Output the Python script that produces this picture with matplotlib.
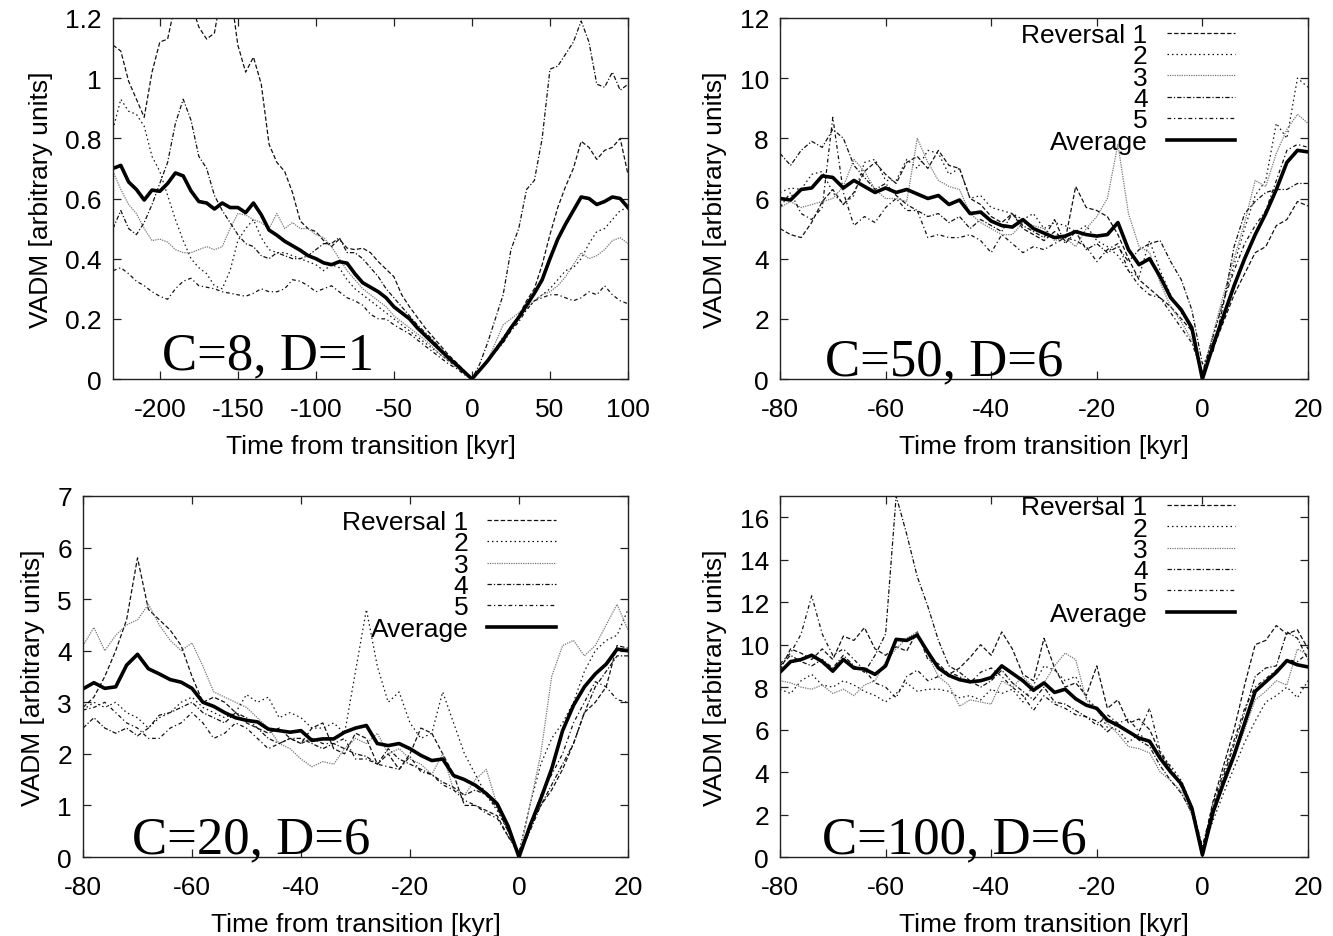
import numpy as np
import matplotlib
matplotlib.use("Agg")
import matplotlib.pyplot as plt
from matplotlib.ticker import FuncFormatter, MultipleLocator

plt.rcParams['font.family'] = ['Liberation Sans', 'DejaVu Sans']
plt.rcParams['axes.unicode_minus'] = False

# ---------------- Panel 1: C=8, D=1 ----------------
t1 = list(range(-230, 101, 5))
p1_rev1 = [1.11, 1.09, 0.99, 0.93, 0.87, 1.02, 1.12, 1.13, 1.25, 1.35, 1.25, 1.17, 1.13, 1.15, 1.30, 1.30,
           1.11, 1.02, 1.07, 0.98, 0.78, 0.72, 0.69, 0.62, 0.525, 0.50, 0.49, 0.46, 0.44, 0.465, 0.435, 0.43,
           0.435, 0.42, 0.39, 0.365, 0.34, 0.28, 0.24, 0.205, 0.17, 0.14, 0.11, 0.08, 0.055, 0.028, 0.0,
           0.03, 0.06, 0.10, 0.135, 0.17, 0.21, 0.26, 0.30, 0.38, 0.48, 0.57, 0.64, 0.70, 0.79, 0.77,
           0.73, 0.76, 0.77, 0.80, 0.68]
p1_rev2 = [0.83, 0.93, 0.89, 0.88, 0.84, 0.74, 0.69, 0.61, 0.53, 0.46, 0.40, 0.37, 0.35, 0.31, 0.30, 0.36,
           0.46, 0.50, 0.53, 0.47, 0.43, 0.42, 0.42, 0.41, 0.40, 0.39, 0.38, 0.36, 0.38, 0.37, 0.33, 0.30,
           0.28, 0.26, 0.24, 0.22, 0.20, 0.18, 0.16, 0.14, 0.12, 0.10, 0.08, 0.06, 0.04, 0.02, 0.0,
           0.03, 0.06, 0.10, 0.14, 0.17, 0.20, 0.23, 0.26, 0.28, 0.30, 0.33, 0.36, 0.37, 0.40, 0.45,
           0.49, 0.50, 0.53, 0.56, 0.57]
p1_rev3 = [0.69, 0.63, 0.58, 0.55, 0.50, 0.46, 0.465, 0.455, 0.43, 0.42, 0.42, 0.43, 0.44, 0.43, 0.44, 0.50,
           0.55, 0.545, 0.53, 0.52, 0.50, 0.55, 0.50, 0.52, 0.50, 0.50, 0.48, 0.47, 0.44, 0.40, 0.36, 0.33,
           0.30, 0.28, 0.26, 0.24, 0.21, 0.19, 0.17, 0.15, 0.13, 0.105, 0.08, 0.06, 0.04, 0.02, 0.0,
           0.03, 0.06, 0.12, 0.18, 0.20, 0.22, 0.24, 0.26, 0.28, 0.29, 0.31, 0.34, 0.38, 0.42, 0.40,
           0.41, 0.43, 0.46, 0.47, 0.45]
p1_rev4 = [0.50, 0.56, 0.50, 0.48, 0.52, 0.58, 0.65, 0.72, 0.85, 0.93, 0.86, 0.74, 0.70, 0.61, 0.56, 0.52,
           0.48, 0.45, 0.44, 0.41, 0.40, 0.42, 0.41, 0.40, 0.40, 0.41, 0.43, 0.45, 0.45, 0.47, 0.42, 0.42,
           0.40, 0.37, 0.34, 0.30, 0.27, 0.24, 0.21, 0.18, 0.155, 0.13, 0.10, 0.075, 0.05, 0.025, 0.0,
           0.05, 0.12, 0.20, 0.28, 0.43, 0.50, 0.63, 0.66, 0.80, 1.03, 1.04, 1.08, 1.12, 1.19, 1.12,
           0.98, 0.97, 1.02, 0.96, 0.98]
p1_rev5 = [0.36, 0.37, 0.35, 0.325, 0.31, 0.29, 0.275, 0.265, 0.30, 0.325, 0.335, 0.31, 0.305, 0.30, 0.29,
           0.285, 0.28, 0.275, 0.285, 0.30, 0.29, 0.29, 0.30, 0.33, 0.325, 0.31, 0.29, 0.30, 0.31, 0.29, 0.27,
           0.26, 0.245, 0.215, 0.20, 0.20, 0.18, 0.165, 0.15, 0.13, 0.11, 0.09, 0.07, 0.05, 0.035, 0.015, 0.0,
           0.03, 0.06, 0.09, 0.12, 0.16, 0.19, 0.23, 0.26, 0.27, 0.28, 0.28, 0.27, 0.26, 0.27, 0.29,
           0.28, 0.31, 0.28, 0.26, 0.25]
p1_avg = [0.70, 0.71, 0.655, 0.63, 0.595, 0.628, 0.624, 0.65, 0.685, 0.675, 0.625, 0.59, 0.585, 0.565, 0.585,
          0.57, 0.57, 0.553, 0.585, 0.546, 0.495, 0.478, 0.458, 0.443, 0.428, 0.41, 0.40, 0.386, 0.38, 0.39,
          0.385, 0.35, 0.32, 0.305, 0.29, 0.27, 0.24, 0.22, 0.20, 0.17, 0.145, 0.12, 0.095, 0.07, 0.048, 0.024,
          0.0, 0.03, 0.06, 0.095, 0.13, 0.17, 0.205, 0.245, 0.285, 0.33, 0.40, 0.465, 0.515, 0.56, 0.605,
          0.60, 0.58, 0.59, 0.605, 0.60, 0.57]

# ---------------- Panels 2-4 share a time axis ----------------
t2 = list(range(-80, 21, 2))

# Panel 2: C=50, D=6
p2_rev1 = [5.0, 4.8, 4.7, 5.2, 5.9, 6.3, 5.8, 6.2, 6.9, 7.2, 6.8, 6.5, 7.2, 7.4, 7.0, 7.6, 7.1, 7.0, 6.0, 5.8,
           5.4, 5.2, 5.5, 5.0, 4.8, 4.6, 4.9, 4.6, 6.4, 5.7, 5.6, 5.4, 4.8, 4.0, 3.3, 3.0, 2.7, 2.4, 2.0, 1.6,
           0.1, 1.0, 1.9, 2.8, 3.5, 4.2, 4.4, 5.1, 5.3, 5.9, 5.75]
p2_rev2 = [6.2, 6.35, 6.3, 6.8, 6.9, 6.2, 5.8, 6.1, 7.2, 7.3, 6.6, 6.6, 7.3, 7.0, 7.6, 7.5, 6.8, 7.0, 6.0, 6.1,
           5.7, 5.6, 5.5, 5.3, 5.5, 5.0, 5.2, 5.1, 4.9, 5.1, 4.6, 4.4, 4.1, 3.6, 3.4, 4.6, 3.6, 2.8, 2.2, 1.7,
           0.2, 1.4, 2.6, 3.8, 5.0, 6.1, 6.6, 8.5, 8.0, 10.0, 9.7]
p2_rev3 = [5.7, 5.9, 5.7, 5.8, 5.9, 6.0, 6.4, 7.3, 6.9, 6.3, 6.0, 6.0, 5.9, 8.0, 7.2, 6.6, 6.4, 6.3, 5.5, 5.2,
           5.0, 4.8, 4.8, 5.2, 5.1, 5.0, 4.6, 4.7, 4.4, 5.0, 5.4, 6.0, 7.8, 5.5, 4.4, 4.2, 3.2, 2.4, 1.9, 1.3,
           0.2, 1.5, 2.8, 4.0, 5.2, 6.6, 6.4, 7.5, 8.3, 8.8, 8.5]
p2_rev4 = [7.5, 7.1, 7.6, 7.9, 7.7, 8.3, 8.0, 7.1, 6.7, 6.3, 6.5, 6.1, 5.8, 5.6, 5.4, 5.5, 5.2, 5.4, 5.0, 5.3,
           5.1, 4.9, 5.5, 5.1, 4.9, 4.7, 5.3, 4.5, 4.9, 4.3, 4.5, 4.2, 4.4, 3.9, 4.3, 4.5, 4.6, 3.9, 3.3, 2.3,
           0.5, 0.9, 2.5, 4.4, 5.5, 5.9, 6.2, 6.3, 6.3, 6.5, 6.5]
p2_rev5 = [5.7, 6.2, 5.5, 5.3, 5.7, 8.7, 6.2, 5.1, 5.4, 5.2, 5.7, 6.0, 5.6, 5.6, 4.7, 4.8, 4.7, 4.7, 4.8, 4.6,
           4.2, 4.8, 4.5, 4.2, 4.4, 4.3, 4.5, 4.7, 4.6, 4.4, 3.9, 4.3, 4.5, 3.6, 3.1, 2.8, 2.7, 2.2, 1.7, 1.2,
           0.2, 1.4, 2.6, 3.6, 4.5, 5.1, 5.6, 6.6, 7.6, 7.8, 7.7]
p2_avg = [6.0, 5.95, 6.3, 6.35, 6.75, 6.7, 6.35, 6.6, 6.4, 6.2, 6.35, 6.2, 6.3, 6.15, 6.0, 6.1, 5.8, 5.95, 5.5,
          5.55, 5.25, 5.1, 5.05, 5.3, 5.0, 4.85, 4.7, 4.75, 4.9, 4.8, 4.75, 4.8, 5.2, 4.3, 3.8, 4.0, 3.4, 2.7,
          2.3, 1.7, 0.0, 1.1, 2.1, 3.1, 4.0, 4.8, 5.5, 6.3, 7.2, 7.6, 7.55]

# Panel 3: C=20, D=6
p3_rev1 = [2.9, 3.1, 3.5, 4.0, 4.6, 5.8, 4.8, 4.6, 4.4, 4.1, 3.5, 3.0, 3.1, 3.0, 2.8, 2.6, 2.5, 2.4, 2.5, 2.3,
           2.2, 2.5, 2.6, 2.1, 2.0, 2.4, 2.3, 1.8, 2.0, 1.7, 2.0, 2.5, 2.4, 2.0, 1.6, 1.0, 1.0, 0.9, 0.8, 0.4,
           0.1, 0.6, 1.0, 1.3, 1.7, 2.2, 2.8, 3.0, 3.3, 4.1, 4.05]
p3_rev2 = [2.85, 3.0, 2.9, 3.0, 2.8, 2.7, 2.5, 2.7, 2.8, 3.0, 3.1, 2.9, 2.8, 2.7, 2.8, 3.15, 3.0, 3.1, 2.7, 2.8,
           2.7, 2.5, 2.5, 2.6, 2.4, 3.6, 4.8, 3.7, 3.0, 3.2, 2.6, 2.3, 2.4, 3.2, 2.6, 2.0, 1.6, 1.2, 0.9, 0.5,
           0.1, 1.0, 1.8, 2.3, 2.6, 3.0, 3.6, 4.0, 4.2, 4.3, 4.8]
p3_rev3 = [4.1, 4.45, 4.0, 4.3, 4.5, 4.6, 4.9, 4.5, 4.2, 4.0, 4.15, 3.7, 3.2, 3.1, 3.0, 2.9, 2.7, 2.5, 2.2, 2.1,
           1.9, 1.75, 1.85, 1.8, 2.1, 2.3, 2.2, 2.4, 2.0, 2.1, 1.9, 1.8, 1.6, 2.0, 1.3, 1.2, 1.5, 1.7, 1.0, 0.5,
           0.0, 1.0, 2.0, 3.5, 4.1, 4.2, 3.9, 4.1, 4.5, 4.9, 4.4]
p3_rev4 = [2.5, 2.7, 2.5, 2.4, 2.5, 2.35, 2.5, 2.75, 2.8, 2.9, 3.0, 2.8, 2.7, 2.6, 2.8, 2.7, 2.5, 2.3, 2.2, 2.3,
           2.3, 2.2, 2.1, 2.2, 2.1, 2.0, 1.95, 1.8, 2.1, 1.9, 1.8, 1.7, 1.6, 1.45, 1.35, 1.2, 1.3, 1.2, 0.95,
           0.5, 0.05, 0.5, 1.0, 1.4, 1.8, 2.2, 2.8, 3.3, 3.6, 3.9, 3.9]
p3_rev5 = [2.85, 2.9, 3.0, 2.8, 2.6, 2.5, 2.3, 2.3, 2.5, 2.6, 2.8, 2.6, 2.3, 2.4, 2.6, 2.5, 2.3, 2.1, 2.2, 2.3,
           2.2, 2.3, 2.2, 2.2, 2.3, 1.9, 1.9, 1.8, 1.75, 1.7, 1.95, 1.65, 1.6, 1.4, 1.3, 1.1, 1.0, 0.85, 0.75,
           0.4, 0.05, 0.6, 1.2, 1.6, 2.0, 2.6, 3.0, 3.4, 3.3, 3.05, 3.0]
p3_avg = [3.26, 3.38, 3.27, 3.3, 3.72, 3.93, 3.65, 3.55, 3.44, 3.39, 3.27, 3.0, 2.92, 2.8, 2.7, 2.65, 2.62,
          2.48, 2.45, 2.42, 2.45, 2.26, 2.29, 2.29, 2.42, 2.5, 2.55, 2.2, 2.16, 2.2, 2.1, 1.97, 1.87, 1.9,
          1.58, 1.5, 1.39, 1.23, 1.03, 0.6, 0.0, 0.6, 1.13, 1.71, 2.45, 2.94, 3.3, 3.55, 3.74, 4.03, 4.0]

# Panel 4: C=100, D=6
p4_rev1 = [8.8, 9.8, 9.6, 9.3, 9.8, 9.3, 10.4, 10.2, 10.8, 9.8, 9.5, 9.9, 9.7, 10.6, 9.3, 9.1, 8.6, 8.9, 9.4,
           10.0, 9.5, 10.6, 9.8, 8.6, 8.3, 10.3, 8.9, 8.0, 8.2, 7.6, 9.0, 7.0, 7.4, 6.3, 6.5, 6.0, 4.9, 4.1,
           3.3, 2.3, 0.3, 2.6, 4.3, 6.0, 8.1, 10.0, 10.2, 10.9, 10.5, 10.7, 9.8]
p4_rev2 = [7.9, 7.7, 8.3, 8.6, 8.1, 8.0, 8.3, 8.1, 7.8, 7.6, 7.3, 7.7, 8.2, 7.8, 7.9, 7.9, 7.8, 7.5, 7.6, 7.4,
           7.9, 7.7, 7.9, 7.3, 8.1, 9.0, 8.8, 8.3, 8.5, 7.5, 7.0, 6.1, 6.0, 5.4, 5.8, 5.4, 4.8, 4.3, 3.6, 2.4,
           0.3, 1.7, 3.0, 4.2, 5.4, 6.4, 7.3, 7.6, 8.0, 7.5, 8.3]
p4_rev3 = [8.3, 8.2, 8.0, 7.9, 8.1, 7.7, 7.9, 7.6, 8.1, 8.3, 9.2, 9.8, 10.3, 10.6, 9.5, 8.5, 8.1, 7.1, 7.4,
           7.3, 7.2, 8.3, 8.0, 8.5, 8.0, 8.2, 9.0, 9.6, 9.3, 7.4, 6.9, 6.3, 5.8, 5.2, 5.1, 4.9, 4.0, 3.6, 3.1,
           2.0, 0.2, 2.0, 3.3, 4.6, 6.0, 7.4, 7.8, 8.3, 8.1, 9.8, 9.5]
p4_rev4 = [9.0, 9.5, 9.2, 9.0, 9.3, 8.9, 9.5, 9.0, 8.7, 9.5, 10.5, 17.0, 15.2, 13.2, 11.8, 10.2, 9.0, 8.7,
           8.3, 8.0, 8.3, 8.8, 8.2, 7.8, 7.4, 8.0, 7.3, 7.2, 6.9, 6.6, 6.4, 5.9, 6.3, 5.9, 5.5, 5.2, 4.3, 3.6,
           3.0, 2.1, 0.3, 2.3, 3.8, 5.3, 6.8, 8.5, 8.9, 9.0, 10.6, 10.3, 9.3]
p4_rev5 = [9.1, 9.6, 10.5, 12.3, 10.5, 9.5, 9.8, 9.3, 8.8, 8.2, 8.0, 7.5, 8.5, 8.8, 8.3, 8.5, 8.7, 8.5, 8.2,
           8.7, 8.9, 8.5, 8.0, 7.6, 6.9, 7.6, 7.2, 7.0, 6.7, 6.6, 6.2, 6.7, 6.3, 6.5, 5.9, 7.0, 5.0, 4.2, 3.4,
           2.4, 0.5, 2.5, 4.0, 5.5, 7.0, 8.0, 8.4, 8.8, 9.3, 9.2, 9.6]
p4_avg = [8.7, 9.2, 9.3, 9.5, 9.2, 8.75, 9.3, 8.9, 8.85, 8.6, 9.0, 10.25, 10.2, 10.45, 9.65, 8.9, 8.55, 8.35,
          8.25, 8.3, 8.45, 9.0, 8.65, 8.3, 7.85, 8.2, 7.75, 7.9, 7.45, 7.15, 7.0, 6.45, 6.2, 5.9, 5.6, 5.45,
          4.65, 4.0, 3.45, 2.3, 0.1, 2.1, 3.5, 4.8, 6.3, 7.8, 8.25, 8.7, 9.25, 9.05, 8.95]

legend_labels = ["Reversal 1", "2", "3", "4", "5", "Average"]
panel_titles = ["C=8, D=1", "C=50, D=6", "C=20, D=6", "C=100, D=6"]
xlabel = "Time from transition [kyr]"
ylabel = "VADM [arbitrary units]"

styles = [
    dict(color="#111111", lw=0.9, dashes=(3.5, 1.8)),
    dict(color="#111111", lw=0.9, dashes=(1.2, 2.4)),
    dict(color="#777777", lw=0.9, dashes=(1.0, 0.9)),
    dict(color="#111111", lw=0.9, dashes=(3.5, 1.6, 1.0, 1.6)),
    dict(color="#111111", lw=0.9, dashes=(3.0, 2.2, 1.0, 2.2)),
    dict(color="#000000", lw=2.6, linestyle="-"),
]

FS = 19
fig = plt.figure(figsize=(13.33, 9.37), dpi=100)

panels = [
    dict(rect=[113/1333, 1-380/937, 515/1333, 361/937], t=t1,
         ys=[p1_rev1, p1_rev2, p1_rev3, p1_rev4, p1_rev5, p1_avg],
         xlim=(-230, 100), ylim=(0, 1.2), xstep=50, ystep=0.2, legend=None,
         txt=(0.095, 0.03)),
    dict(rect=[780/1333, 1-380/937, 528/1333, 361/937], t=t2,
         ys=[p2_rev1, p2_rev2, p2_rev3, p2_rev4, p2_rev5, p2_avg],
         xlim=(-80, 20), ylim=(0, 12), xstep=20, ystep=2, legend=(0.892, 1.03),
         txt=(0.085, 0.014)),
    dict(rect=[83/1333, 1-858/937, 545/1333, 361/937], t=t2,
         ys=[p3_rev1, p3_rev2, p3_rev3, p3_rev4, p3_rev5, p3_avg],
         xlim=(-80, 20), ylim=(0, 7), xstep=20, ystep=1, legend=(0.897, 1.005),
         txt=(0.09, 0.014)),
    dict(rect=[780/1333, 1-858/937, 528/1333, 361/937], t=t2,
         ys=[p4_rev1, p4_rev2, p4_rev3, p4_rev4, p4_rev5, p4_avg],
         xlim=(-80, 20), ylim=(0, 17), xstep=20, ystep=2, legend=(0.892, 1.046),
         txt=(0.08, 0.014)),
]

fmt = FuncFormatter(lambda v, p: "%g" % round(v, 6))

for i, pdef in enumerate(panels):
    ax = fig.add_axes(pdef["rect"])
    handles = []
    for y, st, lab in zip(pdef["ys"], styles, legend_labels):
        h, = ax.plot(pdef["t"], y, label=lab, **st)
        handles.append(h)
    ax.set_xlim(*pdef["xlim"])
    ax.set_ylim(*pdef["ylim"])
    ax.xaxis.set_major_locator(MultipleLocator(pdef["xstep"]))
    ax.yaxis.set_major_locator(MultipleLocator(pdef["ystep"]))
    ax.xaxis.set_major_formatter(fmt)
    ax.yaxis.set_major_formatter(fmt)
    ax.tick_params(direction="in", length=6, width=0.9, top=True, right=True,
                   labelsize=FS, color="#222222")
    ax.tick_params(axis="x", pad=13)
    ax.tick_params(axis="y", pad=8)
    for s in ax.spines.values():
        s.set_linewidth(1.0)
        s.set_color("#222222")
    ax.set_xlabel(xlabel, fontsize=FS, labelpad=9)
    ax.set_ylabel(ylabel, fontsize=FS, labelpad=9)
    ax.text(pdef["txt"][0], pdef["txt"][1], panel_titles[i], transform=ax.transAxes,
            fontsize=38, family=["Liberation Serif", "DejaVu Serif"], ha="left", va="baseline")
    if pdef["legend"] is not None:
        ax.legend(handles=handles, loc="upper right", frameon=False, markerfirst=False,
                  fontsize=FS, handlelength=2.6, handletextpad=0.72, labelspacing=-0.1,
                  borderaxespad=0.2, bbox_to_anchor=pdef["legend"])

fig.savefig("out.png", dpi=100)
